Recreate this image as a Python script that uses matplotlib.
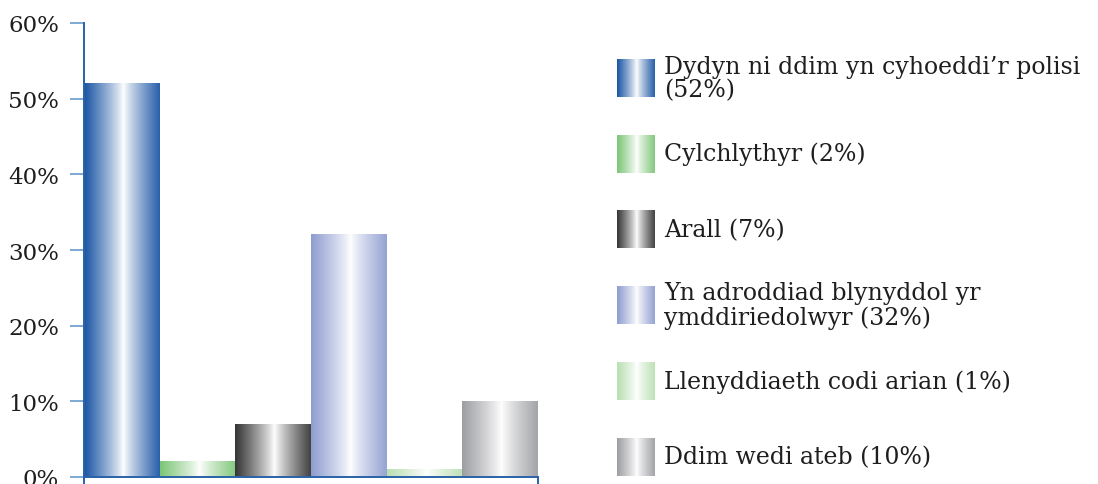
import numpy as np
import matplotlib
matplotlib.use("Agg")
import matplotlib.pyplot as plt
from matplotlib.ticker import FuncFormatter

# data
labels = [
    "Dydyn ni ddim yn cyhoeddi\u2019r polisi\n(52%)",
    "Cylchlythyr (2%)",
    "Arall (7%)",
    "Yn adroddiad blynyddol yr\nymddiriedolwyr (32%)",
    "Llenyddiaeth codi arian (1%)",
    "Ddim wedi ateb (10%)",
]
values = [52, 2, 7, 32, 1, 10]
edge_colors = ["#1a55a4", "#7cc576", "#353535", "#8e9dd0", "#b9dfb2", "#9d9ea2"]
yticks = [0, 10, 20, 30, 40, 50, 60]

W, H = 1098, 485
plt.rcParams['font.family'] = ['DejaVu Serif']
fig = plt.figure(figsize=(W / 100, H / 100), dpi=100)
ax = fig.add_axes([84 / W, 7 / H, 454 / W, 454 / H])


def gradient(color, n=200):
    # dark at the edges, white stripe in the middle
    rgb = np.array(matplotlib.colors.to_rgb(color))
    t = np.linspace(0, 1, n)
    d = np.abs(t - 0.52) / 0.52
    d = np.clip(d, 0, 1) ** 0.85
    img = 1 - (1 - rgb)[None, :] * d[:, None]
    return img[None, :, :]


for i, (v, c) in enumerate(zip(values, edge_colors)):
    ax.imshow(gradient(c), extent=[i, i + 1, 0, v], aspect='auto',
              interpolation='bilinear', zorder=2)

ax.set_xlim(0, len(values))
ax.set_ylim(0, 60)
ax.set_yticks(yticks)
ax.yaxis.set_major_formatter(FuncFormatter(lambda v, p: f"{v:.0f}%"))
ax.set_xticks([0, len(values)])
ax.set_xticklabels([])

for s in ['top', 'right']:
    ax.spines[s].set_visible(False)
for s in ['left', 'bottom']:
    ax.spines[s].set_color('#2a62a8')
    ax.spines[s].set_linewidth(1.4)
    ax.spines[s].set_zorder(3)

ax.tick_params(axis='y', length=10, width=1.4, color='#7ea8d6',
               labelsize=16.5, labelcolor='#1e1e1e', pad=8)
ax.tick_params(axis='x', length=8, width=1.4, color='#2a62a8')

# legend: gradient squares plus text, placed in figure pixels
sq = 38
for i, (lab, c) in enumerate(zip(labels, edge_colors)):
    cy = 79 + i * 75.7
    lax = fig.add_axes([617 / W, (H - cy - sq / 2) / H, sq / W, sq / H])
    lax.imshow(gradient(c), aspect='auto', interpolation='bilinear')
    lax.axis('off')
    fig.text(664 / W, (H - cy) / H, lab, fontsize=17, color='#1e1e1e',
             va='center', ha='left', linespacing=1.05)

fig.savefig("out.png", dpi=100)
